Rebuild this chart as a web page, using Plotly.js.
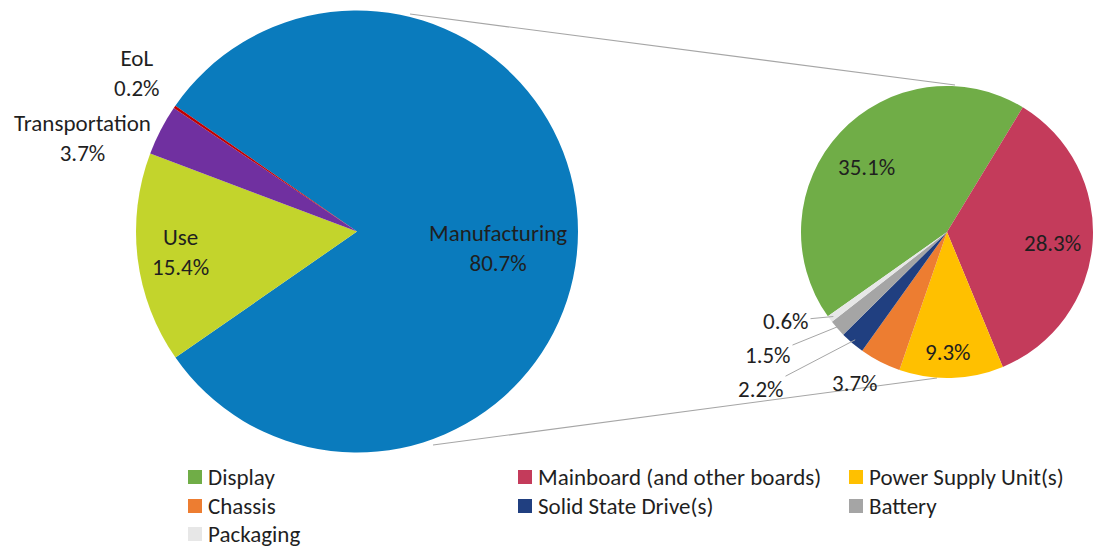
<!DOCTYPE html>
<html>
<head>
<meta charset="utf-8">
<script src="https://cdn.plot.ly/plotly-3.0.1.min.js"></script>
<style>html,body{margin:0;padding:0;background:#fff;}#chart{width:1097px;height:548px;}</style>
</head>
<body>
<div id="chart"></div>
<script>
// ---- data ----
const mainLabels = ['Manufacturing', 'Use', 'Transportation', 'EoL'];
const mainValues = [80.7, 15.4, 3.7, 0.2];
const mainColors = ['#0A7BBD', '#C3D42C', '#7030A0', '#C00000'];

const subLabels = ['Display', 'Mainboard (and other boards)', 'Power Supply Unit(s)', 'Chassis', 'Solid State Drive(s)', 'Battery', 'Packaging'];
const subValues = [35.1, 28.3, 9.3, 3.7, 2.2, 1.5, 0.6];
const subColors = ['#70AD47', '#C43B5B', '#FFC000', '#ED7D31', '#203F80', '#A5A5A5', '#E7E7E7'];

// ---- layout constants (pixels) ----
const W = 1097, H = 548;
const FONT = 'Carlito, Lato, sans-serif';
const FS = 23;
const TXT = '#1f1f1f';
const px = x => x / W;
const py = y => 1 - y / H;

const MAIN = {cx: 357, cy: 231.5, r: 221, rot: -55.3};
const SUB  = {cx: 947, cy: 232,   r: 146, rot: -125.3};

// label text centres (pixels) for the left pie
const mainLabelSpots = [[498, 248], [180, 252], [82, 138], [137, 73]];
// label text centres (pixels) for the right pie; leader = draw a line to the slice
const subLabelSpots = [[866, 167], [1052, 243], [948, 352], [855, 383], [761, 389], [768, 355], [786, 321]];
const subLeader = [false, false, false, false, true, true, true];

function pieDomain(p) {
  return {x: [px(p.cx - p.r), px(p.cx + p.r)], y: [py(p.cy + p.r), py(p.cy - p.r)]};
}

const mainPie = {
  type: 'pie', sort: false, direction: 'clockwise', rotation: MAIN.rot,
  labels: mainLabels, values: mainValues,
  marker: {colors: mainColors, line: {width: 0}},
  domain: pieDomain(MAIN), textinfo: 'none',
  showlegend: false, hoverinfo: 'label+value', automargin: false
};

const subPie = {
  type: 'pie', sort: false, direction: 'clockwise', rotation: SUB.rot,
  labels: subLabels, values: subValues,
  marker: {colors: subColors, line: {width: 0}},
  domain: pieDomain(SUB), textinfo: 'none',
  showlegend: false, hoverinfo: 'label+value', automargin: false
};

// point on the rim at the middle of slice i (pixels), derived from the values
function rimPoint(p, values, i, frac) {
  const tot = values.reduce((a, b) => a + b, 0);
  let cum = 0;
  for (let k = 0; k < i; k++) cum += values[k];
  const mid = (cum + values[i] / 2) / tot * 360;
  const ang = (90 - p.rot - mid) * Math.PI / 180;   // clockwise from rotation start
  return [p.cx + frac * p.r * Math.cos(ang), p.cy - frac * p.r * Math.sin(ang)];
}

const shapes = [
  {type: 'line', xref: 'paper', yref: 'paper', x0: px(410), y0: py(14), x1: px(955), y1: py(85), line: {color: '#A6A6A6', width: 1.2}, layer: 'below'},
  {type: 'line', xref: 'paper', yref: 'paper', x0: px(433), y0: py(445), x1: px(937), y1: py(378), line: {color: '#A6A6A6', width: 1.2}, layer: 'below'}
];
const annotations = [];
const tfont = {family: FONT, size: FS, color: TXT};

// left pie labels
mainLabels.forEach((lab, i) => {
  const s = mainLabelSpots[i];
  annotations.push({xref: 'paper', yref: 'paper', x: px(s[0]), y: py(s[1]),
    xanchor: 'center', yanchor: 'middle', showarrow: false, align: 'center',
    text: lab + '<br>' + mainValues[i].toFixed(1) + '%', font: tfont});
});

// right pie labels
subValues.forEach((v, i) => {
  const s = subLabelSpots[i];
  const txt = v.toFixed(1) + '%';
  if (subLeader[i]) {
    const tip = rimPoint(SUB, subValues, i, 0.97);
    annotations.push({xref: 'paper', yref: 'paper', x: px(tip[0]), y: py(tip[1]),
      axref: 'pixel', ayref: 'pixel', ax: s[0] - tip[0], ay: s[1] - tip[1],
      showarrow: true, arrowhead: 0, arrowwidth: 1, arrowcolor: '#A6A6A6', standoff: 0,
      text: txt, font: tfont});
  } else {
    annotations.push({xref: 'paper', yref: 'paper', x: px(s[0]), y: py(s[1]),
      xanchor: 'center', yanchor: 'middle', showarrow: false, text: txt, font: tfont});
  }
});

// custom legend (3 columns)
const colX = [188, 518, 849];
const rowY = [477, 506, 534];
subLabels.forEach((lab, i) => {
  const cx = colX[i % 3], cy = rowY[Math.floor(i / 3)];
  shapes.push({type: 'rect', xref: 'paper', yref: 'paper',
    x0: px(cx), x1: px(cx + 14), y0: py(cy + 7), y1: py(cy - 7),
    fillcolor: subColors[i], line: {width: 0}});
  annotations.push({xref: 'paper', yref: 'paper', x: px(cx + 18), y: py(cy),
    xanchor: 'left', yanchor: 'middle', showarrow: false, text: lab, font: tfont});
});

const layout = {
  width: W, height: H,
  margin: {l: 0, r: 0, t: 0, b: 0},
  paper_bgcolor: '#fff', plot_bgcolor: '#fff',
  showlegend: false,
  shapes: shapes, annotations: annotations,
  font: {family: FONT}
};

Plotly.newPlot('chart', [mainPie, subPie], layout, {displayModeBar: false, staticPlot: true});
</script>
</body>
</html>
